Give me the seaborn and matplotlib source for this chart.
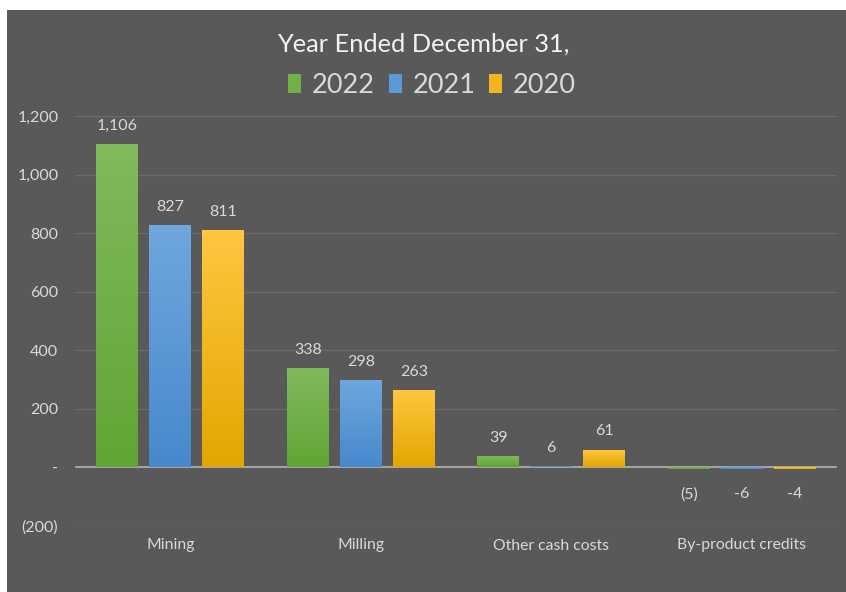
import numpy as np
import pandas as pd
import matplotlib
matplotlib.use("Agg")
import matplotlib.pyplot as plt
from matplotlib.patches import Rectangle, Patch
from matplotlib.colors import to_rgb
import seaborn as sns

categories = ["Mining", "Milling", "Other cash costs", "By-product credits"]
years = ["2022", "2021", "2020"]
values_2022 = [1106, 338, 39, -5]
values_2021 = [827, 298, 6, -6]
values_2020 = [811, 263, 61, -4]
labels_2022 = ["1,106", "338", "39", "(5)"]
labels_2021 = ["827", "298", "6", "-6"]
labels_2020 = ["811", "263", "61", "-4"]
yticks = [-200, 0, 200, 400, 600, 800, 1000, 1200]
ytick_labels = ["(200)", "-", "200", "400", "600", "800", "1,000", "1,200"]

top_colors = {"2022": "#80ba5c", "2021": "#6fa7de", "2020": "#ffc641"}
bottom_colors = {"2022": "#61a535", "2021": "#4689cc", "2020": "#e3a700"}
mid_colors = {"2022": "#70b048", "2021": "#5b98d6", "2020": "#f2b520"}

df = pd.DataFrame({
    "category": categories * 3,
    "value": values_2022 + values_2021 + values_2020,
    "year": ["2022"] * 4 + ["2021"] * 4 + ["2020"] * 4,
})
all_labels = [labels_2022, labels_2021, labels_2020]

sns.set_theme(style="dark")
plt.rcParams["font.family"] = ["Lato", "DejaVu Sans"]

BG = "#595959"
TXT = "#d9d9d9"

W, H = 846, 592
fig = plt.figure(figsize=(W / 100, H / 100), dpi=100, facecolor="white")
fig.patches.append(Rectangle((7 / W, 0), 1 - 7 / W, 1 - 10 / H, transform=fig.transFigure,
                             facecolor=BG, edgecolor="none", zorder=-10))

ax = fig.add_axes([75 / W, 1 - 526 / H, (837 - 75) / W, (526 - 116) / H])
ax.set_facecolor(BG)
ax.patch.set_alpha(0)

sns.barplot(data=df, x="category", y="value", hue="year", hue_order=years,
            palette=mid_colors, width=0.835, gap=0.21, ax=ax, legend=False,
            edgecolor="none", linewidth=0, zorder=3)

ax.set_ylim(-200, 1200)
ax.set_xlim(-0.5, 3.5)
ax.set_yticks(yticks)
ax.set_yticklabels(ytick_labels)
ax.yaxis.grid(True, color="#6b6b6b", linewidth=0.9, zorder=0)
ax.xaxis.grid(False)
ax.axhline(0, color="#a6a6a6", linewidth=1.4, zorder=2)
for s in ax.spines.values():
    s.set_visible(False)
ax.tick_params(axis="y", length=0, pad=12, labelsize=11.5, labelcolor=TXT)
ax.tick_params(axis="x", length=0, pad=9, labelsize=11.3, labelcolor=TXT)
ax.set_xlabel("")
ax.set_ylabel("")

# gradient fills + labels
for cont, yr, labs in zip(ax.containers, years, all_labels):
    c1 = np.array(to_rgb(top_colors[yr]))
    c2 = np.array(to_rgb(bottom_colors[yr]))
    grad = np.linspace(0, 1, 64)[:, None, None]
    img = c1 * (1 - grad) + c2 * grad
    for bar, lab in zip(cont.patches, labs):
        x0, w = bar.get_x(), bar.get_width()
        y0, h = bar.get_y(), bar.get_height()
        ytop, ybot = max(y0, y0 + h), min(y0, y0 + h)
        im = ax.imshow(img, extent=[x0, x0 + w, ybot, ytop], aspect="auto",
                       origin="upper", zorder=3.5, interpolation="bilinear")
        im.set_clip_path(bar)
        xc = x0 + w / 2
        if h >= 0:
            ax.annotate(lab, xy=(xc, ytop), xytext=(0, 8), textcoords="offset points",
                        ha="center", va="bottom", fontsize=11.5, color=TXT)
        else:
            ax.annotate(lab, xy=(xc, ybot), xytext=(0, -13), textcoords="offset points",
                        ha="center", va="top", fontsize=11.5, color=TXT)
ax.set_xlim(-0.5, 3.5)
ax.set_ylim(-200, 1200)

fig.text(0.5, 1 - 44 / H, "Year Ended December 31,", ha="center", va="center",
         fontsize=18.3, color="#f2f2f2")
handles = [Patch(facecolor=mid_colors[y], edgecolor="none") for y in years]
fig.legend(handles, years, loc="center", bbox_to_anchor=(432 / W, 1 - 85 / H),
           ncol=3, frameon=False, fontsize=19.5, labelcolor=TXT,
           handlelength=0.48, handleheight=0.7, handletextpad=0.4, columnspacing=0.5)

fig.savefig("out.png", dpi=100, facecolor="white")
